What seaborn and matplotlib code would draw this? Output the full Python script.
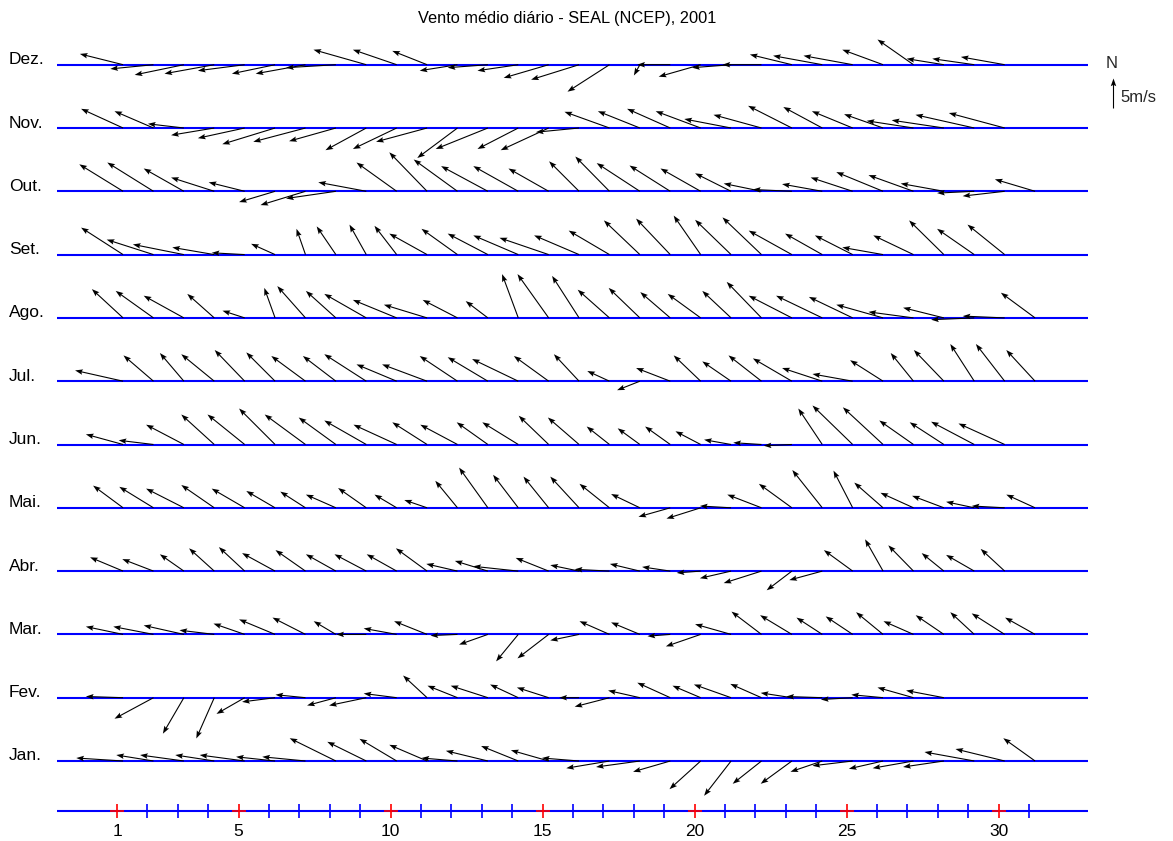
import numpy as np
import pandas as pd
import matplotlib
matplotlib.use("Agg")
import matplotlib.pyplot as plt
import seaborn as sns

# ---------------- data (m/s, u = eastward, v = northward) ----------------
title = "Vento médio diário - SEAL (NCEP), 2001"
month_labels = ["Jan.", "Fev.", "Mar.", "Abr.", "Mai.", "Jun.",
                "Jul.", "Ago.", "Set.", "Out.", "Nov.", "Dez."]

jan_u = [-7.8, -6.2, -7.3, -6.5, -7.5, -6.5, -7.2, -7.7, -6.5, -6.2, -6.3, -6.0, -7.0, -6.2, -6.3, -6.2,
         -7.2, -7.3, -6.2, -5.2, -4.5, -4.8, -5.2, -5.3, -6.7, -5.7, -6.8, -6.8, -8.3, -8.2, -5.3]
jan_v = [0.5, 1.0, 1.0, 1.0, 1.0, 0.7, 0.7, 3.8, 3.2, 3.7, 2.7, 0.5, 1.7, 2.5, 1.8, 0.5,
         -1.2, -1.0, -1.8, -4.7, -5.8, -3.8, -3.8, -1.8, -0.8, -1.3, -1.2, -1.0, 1.5, 2.0, 3.8]

fev_u = [-6.2, -6.5, -3.5, -3.0, -4.7, -5.5, -5.0, -4.8, -6.2, -5.5, -4.0, -5.0, -6.2, -4.7,
         -5.3, -3.3, -5.8, -5.3, -5.5, -4.7, -6.2, -5.2, -5.2, -6.0, -5.3, -5.3, -6.0, -6.3]
fev_v = [0.2, -3.5, -6.0, -6.8, -2.7, -0.7, 0.5, -1.3, -1.3, 0.7, 3.7, 2.0, 2.0, 2.2,
         1.7, 0.0, -1.5, 1.2, 2.5, 2.0, 2.2, 2.3, 0.8, 0.2, -0.3, 0.5, 1.7, 1.2]

mar_u = [-6.2, -6.7, -6.7, -5.8, -5.2, -6.0, -5.5, -3.7, -5.0, -5.5, -5.5, -4.5, -4.8, -3.7, -5.2, -4.8,
         -5.0, -4.8, -3.8, -5.8, -6.0, -5.0, -5.3, -4.3, -4.5, -4.5, -5.0, -4.7, -4.0, -5.5, -5.0]
mar_v = [1.3, 1.3, 1.5, 0.7, 1.8, 2.5, 2.8, 2.2, 0.0, 1.0, 2.2, -0.2, -1.7, -4.5, -4.0, -1.0,
         2.2, 2.0, -0.3, -2.0, 1.7, 3.8, 3.2, 2.8, 3.0, 3.7, 2.2, 3.2, 3.7, 3.5, 2.8]

abr_u = [-5.5, -5.2, -4.0, -4.2, -4.3, -5.5, -5.0, -5.0, -5.3, -5.0, -5.2, -5.2, -5.5, -7.5, -5.5,
         -4.8, -5.8, -5.0, -4.7, -4.0, -5.2, -6.3, -4.2, -5.5, -4.8, -3.0, -4.2, -3.7, -4.7, -4.0]
abr_v = [2.3, 2.0, 2.8, 3.8, 4.0, 3.0, 3.5, 2.8, 2.8, 2.8, 3.8, 1.2, 1.7, 0.8, 2.2,
         1.0, 0.3, 1.2, 0.7, -0.3, -1.2, -2.0, -3.2, -1.5, 3.5, 5.3, 4.3, 3.0, 2.7, 3.7]

mai_u = [-5.0, -5.7, -6.3, -5.5, -5.5, -4.8, -4.2, -5.0, -4.7, -3.7, -3.8, -3.7, -4.8, -4.2, -4.2, -4.8,
         -5.0, -4.8, -5.3, -5.7, -5.2, -5.7, -5.5, -5.0, -3.2, -4.8, -5.5, -5.3, -4.7, -5.5, -4.8]
mai_v = [3.7, 3.5, 3.2, 3.8, 3.2, 2.8, 2.7, 2.2, 3.3, 2.2, 1.3, 4.5, 6.7, 5.5, 5.2, 5.2,
         4.0, 2.3, -1.5, -1.8, 0.3, 2.2, 4.0, 6.3, 6.2, 4.2, 2.5, 2.0, 1.0, 0.3, 2.2]

jun_u = [-6.2, -5.8, -6.3, -5.5, -6.2, -6.0, -6.8, -6.2, -7.0, -7.2, -5.8, -6.2, -5.2, -6.0, -5.0,
         -5.2, -3.8, -3.7, -4.2, -4.2, -4.5, -4.7, -4.7, -4.0, -6.7, -6.7, -5.7, -5.7, -7.2, -7.7]
jun_v = [1.7, 0.7, 3.3, 5.0, 5.0, 6.0, 5.0, 4.5, 4.0, 3.3, 3.7, 3.3, 3.7, 3.7, 4.8,
         4.5, 3.0, 2.7, 3.0, 2.2, 0.8, 0.3, -0.2, 6.0, 6.5, 6.2, 4.0, 3.7, 3.8, 3.5]

jul_u = [-8.0, -5.0, -4.0, -5.5, -5.0, -4.8, -5.7, -5.5, -7.0, -6.7, -7.5, -6.3, -6.7, -7.7, -5.8, -4.2,
         -3.7, -3.8, -5.7, -4.5, -4.8, -5.5, -6.5, -6.7, -6.7, -5.5, -3.8, -5.0, -4.0, -4.8, -4.8]
jul_v = [1.8, 4.3, 4.7, 4.5, 5.2, 4.8, 4.2, 4.2, 4.5, 2.8, 2.8, 4.2, 4.0, 3.7, 4.2, 4.5,
         1.7, -1.5, 2.2, 4.3, 3.3, 4.3, 3.8, 2.2, 1.2, 3.5, 4.7, 5.2, 6.2, 6.2, 5.2]

ago_u = [-5.2, -6.3, -6.7, -4.5, -3.7, -1.8, -4.7, -5.0, -7.0, -7.3, -7.2, -5.8, -3.7, -2.7, -5.2, -4.5,
         -5.3, -5.2, -5.0, -5.5, -4.8, -5.8, -7.2, -7.7, -7.3, -7.8, -7.5, -6.8, -7.2, -7.0, -5.7]
ago_v = [4.8, 4.5, 3.7, 4.0, 1.2, 5.0, 5.3, 4.5, 4.0, 3.0, 2.2, 3.0, 2.8, 7.3, 7.3, 7.0,
         4.7, 5.0, 4.3, 4.0, 4.5, 6.0, 3.7, 3.7, 3.5, 2.2, 1.0, 1.7, -0.3, 0.3, 4.2]

set_u = [-7.0, -7.8, -8.5, -7.0, -5.5, -4.0, -1.5, -3.2, -2.8, -3.7, -6.3, -6.0, -6.7, -7.5, -8.2,
         -7.5, -6.8, -6.0, -5.7, -4.5, -6.0, -6.5, -7.2, -6.2, -6.3, -6.8, -6.7, -5.8, -6.2, -6.2]
set_v = [4.5, 2.5, 1.7, 1.2, 0.3, 1.8, 4.3, 4.7, 5.0, 4.8, 3.5, 4.3, 3.5, 3.2, 2.8,
         3.2, 4.0, 5.7, 6.0, 6.5, 5.8, 6.2, 4.0, 3.5, 3.2, 1.2, 3.2, 5.7, 4.3, 5.0]

out_u = [-7.3, -7.7, -6.7, -7.2, -6.0, -6.0, -7.5, -8.3, -8.0, -6.7, -6.3, -7.3, -7.8, -7.5, -6.7, -5.0,
         -5.7, -7.2, -6.8, -6.7, -6.0, -6.3, -6.5, -6.7, -7.0, -7.8, -7.5, -7.2, -6.2, -7.0, -6.7]
out_v = [4.5, 4.8, 3.8, 2.3, 1.5, -1.8, -2.3, -1.2, 1.5, 4.8, 6.5, 5.3, 4.2, 4.2, 3.8, 5.0,
         5.8, 4.7, 4.3, 3.8, 3.0, 1.3, 0.3, 1.2, 2.3, 3.2, 2.7, 1.3, -0.3, -0.8, 2.0]

nov_u = [-7.0, -6.5, -6.0, -7.2, -7.8, -8.8, -8.7, -7.8, -6.8, -7.3, -8.5, -6.7, -8.7, -6.8, -8.0,
         -7.2, -7.5, -7.0, -7.2, -7.5, -7.8, -8.0, -7.3, -6.5, -6.8, -6.5, -7.8, -8.7, -9.8, -9.3]
nov_v = [3.2, 2.8, 0.7, -1.2, -1.7, -2.7, -2.3, -2.2, -3.7, -3.5, -2.3, -5.0, -3.5, -3.5, -3.7,
         -0.7, 2.7, 2.8, 3.2, 2.8, 1.5, 2.2, 3.7, 3.5, 2.8, 2.3, 1.2, 1.3, 2.2, 2.5]

dez_u = [-7.2, -7.2, -8.2, -8.3, -7.8, -7.2, -8.3, -8.3, -8.8, -7.3, -5.8, -6.3, -6.7, -6.8, -7.5,
         -8.0, -7.0, -1.0, -5.5, -7.0, -6.5, -6.5, -7.0, -8.2, -8.2, -6.8, -6.0, -6.2, -7.0, -7.3]
dez_v = [1.8, -0.7, -1.7, -1.5, -1.0, -1.5, -1.5, -0.5, 2.5, 2.5, 2.3, -1.0, -0.5, -1.0, -2.2,
         -2.5, -4.5, -1.8, 0.0, -2.0, -0.5, 0.0, 1.7, 1.5, 1.5, 2.5, 4.2, 1.0, 1.0, 1.3]

month_u = [jan_u, fev_u, mar_u, abr_u, mai_u, jun_u, jul_u, ago_u, set_u, out_u, nov_u, dez_u]
month_v = [jan_v, fev_v, mar_v, abr_v, mai_v, jun_v, jul_v, ago_v, set_v, out_v, nov_v, dez_v]

all_days = list(range(1, 32))
major_days = [1, 5, 10, 15, 20, 25, 30]
key_speed = 5
key_label = "5m/s"
key_north = "N"

# ---------------- layout (pixel based) ----------------
W, H = 1173, 841
DAY_PX = 30.4          # pixels per day
DAY1_PX = 117          # pixel x of day 1 tick
PX_PER_MS = 6.0        # arrow length: pixels per m/s
TAIL_SHIFT = 0.2       # arrows start slightly right of tick
ROW0_PX = 761          # pixel y of January baseline
ROW_STEP = 63.3
AXIS_PX = 811

def xd(px):            # pixel x -> day coordinate
    return 1 + (px - DAY1_PX) / DAY_PX

def yd(py):            # pixel y (from top) -> data y
    return H - py

sns.set_theme(style="white")
plt.rcParams["font.family"] = ["Liberation Sans", "DejaVu Sans"]

fig = plt.figure(figsize=(W / 100, H / 100), dpi=100)
ax = fig.add_axes([0, 0, 1, 1])
ax.set_xlim(xd(0), xd(W))
ax.set_ylim(0, H)
ax.axis("off")

rows = []
for i, (lab, us, vs) in enumerate(zip(month_labels, month_u, month_v)):
    base = yd(ROW0_PX - ROW_STEP * i)
    for d, (u, v) in enumerate(zip(us, vs), start=1):
        rows.append({"month": lab, "day": d, "u": u, "v": v, "base": base})
df = pd.DataFrame(rows)

# baselines
bases = [yd(ROW0_PX - ROW_STEP * i) for i in range(12)]
ax.hlines(bases, xd(57), xd(1088), color="#0000ff", lw=1.5, zorder=1)
ax.hlines([yd(AXIS_PX)], xd(57), xd(1088), color="#0000ff", lw=1.5, zorder=1)

# month labels
for i, lab in enumerate(month_labels):
    ax.text(xd(9), bases[i] + 5, lab, ha="left", va="center", fontsize=12.5, color="black")

# wind sticks
ax.quiver(df["day"] + TAIL_SHIFT, df["base"], df["u"], df["v"],
          angles="uv", scale_units="dots", scale=1 / PX_PER_MS, units="dots",
          width=1.1, headwidth=5, headlength=7, headaxislength=6,
          color="black", pivot="tail", zorder=3)

# day axis ticks
minor = [d for d in all_days if d not in major_days]
ax.plot(minor, [yd(AXIS_PX)] * len(minor), ls="none", marker="|", markersize=10,
        mew=1.2, color="#0000ff", zorder=2)
ax.plot(major_days, [yd(AXIS_PX)] * len(major_days), ls="none", marker="+", markersize=10,
        mew=1.2, color="#ff0000", zorder=2)
for d in major_days:
    ax.text(d, yd(832), str(d), ha="center", va="center", fontsize=12.5, color="black")

# title
ax.text(xd(567), yd(18), title, ha="center", va="center", fontsize=11.8, color="black")

# scale key
ax.quiver([xd(1113)], [yd(108)], [0], [key_speed], angles="uv", scale_units="dots",
          scale=1 / PX_PER_MS, units="dots", width=1.1, headwidth=5, headlength=7,
          headaxislength=6, color="black", pivot="tail")
ax.text(xd(1112), yd(63), key_north, ha="center", va="center", fontsize=12)
ax.text(xd(1120), yd(97), key_label, ha="left", va="center", fontsize=12)

fig.savefig("out.png", dpi=100)
